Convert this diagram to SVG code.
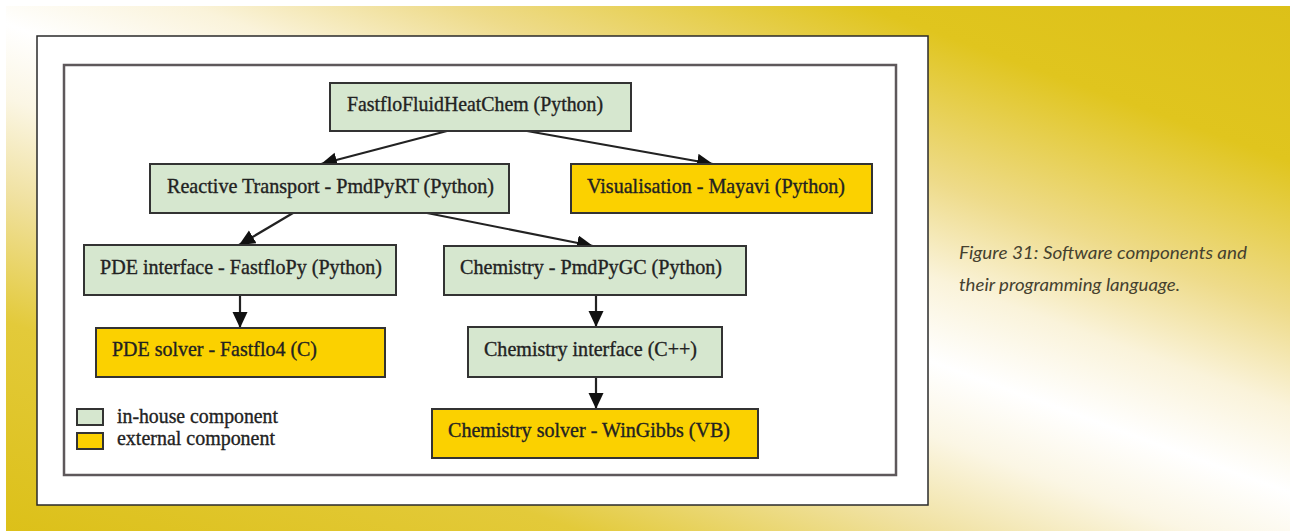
<svg xmlns="http://www.w3.org/2000/svg" width="1290" height="531" viewBox="0 0 1290 531">
<defs>
<linearGradient id="bg" gradientUnits="userSpaceOnUse" x1="154" y1="-423" x2="-172" y2="470">
<stop offset="0" stop-color="#dcc018"/>
<stop offset="0.168" stop-color="#e0c51e"/>
<stop offset="0.316" stop-color="#eedb8a"/>
<stop offset="0.411" stop-color="#faf3da"/>
<stop offset="0.495" stop-color="#ffffff"/>
<stop offset="0.568" stop-color="#fbf6e4"/>
<stop offset="0.663" stop-color="#f0e1a0"/>
<stop offset="0.789" stop-color="#e3ca3a"/>
<stop offset="1" stop-color="#dcc018"/>
</linearGradient>
<marker id="ah" markerUnits="userSpaceOnUse" markerWidth="18" markerHeight="16" refX="16" refY="7.5" orient="auto">
<path d="M0,0 L16,7.5 L0,15 z" fill="#111"/>
</marker>
<style>
.node rect{stroke:#333;stroke-width:2}
.in rect{fill:#d6e7cf}
.ex rect{fill:#fbd100}
.lbl{font-family:"Liberation Serif","Times New Roman",serif;font-size:21px;fill:#222;stroke:#222;stroke-width:0.35}
.edge{stroke:#222;stroke-width:2.2;fill:none;marker-end:url(#ah)}
.cap{font-family:Lato,"Open Sans",sans-serif;font-style:italic;font-weight:400;font-size:17px;fill:#45412f}
</style>
</defs>
<rect x="0" y="0" width="1290" height="531" fill="#ffffff"/>
<rect x="6" y="6" width="1284" height="525" fill="url(#bg)"/>
<rect x="37" y="36" width="891" height="469" fill="#ffffff" stroke="#2a2a2a" stroke-width="1.5"/>
<rect x="64" y="65" width="832" height="410" fill="#ffffff" stroke="#5e585b" stroke-width="2.5"/>

<g id="connectors">
<line class="edge" x1="447" y1="131" x2="321" y2="164"/>
<line class="edge" x1="527" y1="131" x2="713" y2="164"/>
<line class="edge" x1="293" y1="213" x2="239" y2="245"/>
<line class="edge" x1="427" y1="213" x2="593" y2="246"/>
<line class="edge" x1="240" y1="295" x2="240" y2="328"/>
<line class="edge" x1="596" y1="295" x2="596" y2="327"/>
<line class="edge" x1="596" y1="377" x2="596" y2="409"/>
</g>

<g id="n-fastflo" class="node in">
<rect x="330" y="83" width="301" height="48"/>
<text class="lbl" x="347" y="111" textLength="256" lengthAdjust="spacingAndGlyphs">FastfloFluidHeatChem (Python)</text>
</g>
<g id="n-reactive" class="node in">
<rect x="150" y="164" width="359" height="49"/>
<text class="lbl" x="167" y="193" textLength="327" lengthAdjust="spacingAndGlyphs">Reactive Transport - PmdPyRT (Python)</text>
</g>
<g id="n-visual" class="node ex">
<rect x="571" y="164" width="301" height="49"/>
<text class="lbl" x="587" y="193" textLength="258" lengthAdjust="spacingAndGlyphs">Visualisation - Mayavi (Python)</text>
</g>
<g id="n-pdeif" class="node in">
<rect x="84" y="245" width="312" height="50"/>
<text class="lbl" x="100" y="274" textLength="282" lengthAdjust="spacingAndGlyphs">PDE interface - FastfloPy (Python)</text>
</g>
<g id="n-chem" class="node in">
<rect x="444" y="246" width="302" height="49"/>
<text class="lbl" x="460" y="274" textLength="262" lengthAdjust="spacingAndGlyphs">Chemistry - PmdPyGC (Python)</text>
</g>
<g id="n-pdesolver" class="node ex">
<rect x="96" y="328" width="289" height="49"/>
<text class="lbl" x="112" y="356" textLength="205" lengthAdjust="spacingAndGlyphs">PDE solver - Fastflo4 (C)</text>
</g>
<g id="n-chemif" class="node in">
<rect x="468" y="327" width="254" height="50"/>
<text class="lbl" x="484" y="356" textLength="213" lengthAdjust="spacingAndGlyphs">Chemistry interface (C++)</text>
</g>
<g id="n-chemsolver" class="node ex">
<rect x="432" y="409" width="326" height="49"/>
<text class="lbl" x="448" y="437" textLength="282" lengthAdjust="spacingAndGlyphs">Chemistry solver - WinGibbs (VB)</text>
</g>

<g id="legend">
<g class="node in"><rect x="77" y="409" width="26" height="16"/></g>
<text class="lbl" x="117" y="423" textLength="161" lengthAdjust="spacingAndGlyphs">in-house component</text>
<g class="node ex"><rect x="77" y="433" width="26" height="16"/></g>
<text class="lbl" x="117" y="445" textLength="158" lengthAdjust="spacingAndGlyphs">external component</text>
</g>

<g id="caption">
<text class="cap" x="959" y="259" textLength="288" lengthAdjust="spacingAndGlyphs">Figure 31: Software components and</text>
<text class="cap" x="959" y="291" textLength="221" lengthAdjust="spacingAndGlyphs">their programming language.</text>
</g>
</svg>
